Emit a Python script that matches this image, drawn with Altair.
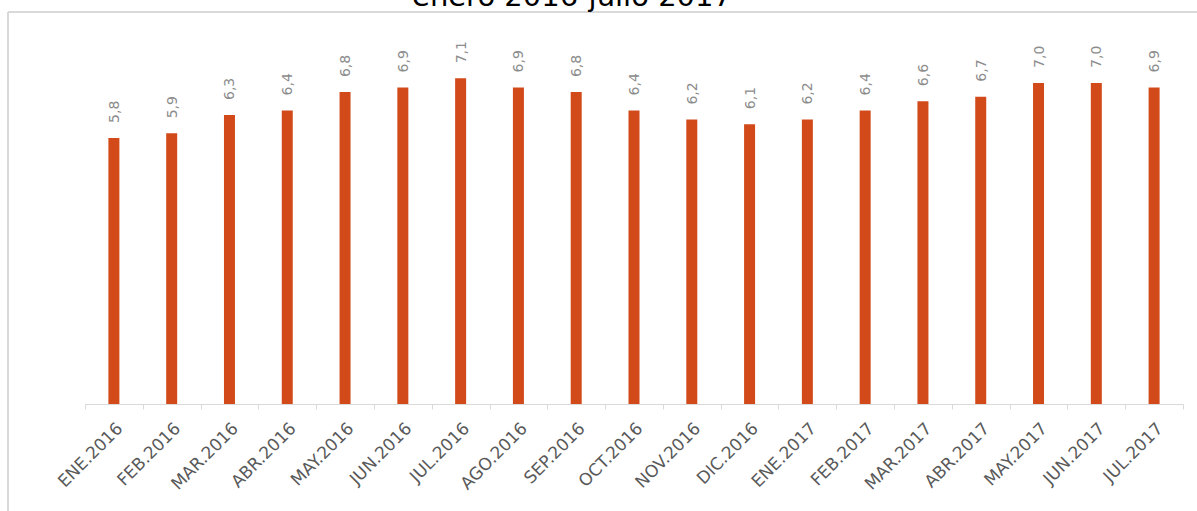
import altair as alt
import pandas as pd

months = ["ENE.2016", "FEB.2016", "MAR.2016", "ABR.2016", "MAY.2016", "JUN.2016",
          "JUL.2016", "AGO.2016", "SEP.2016", "OCT.2016", "NOV.2016", "DIC.2016",
          "ENE.2017", "FEB.2017", "MAR.2017", "ABR.2017", "MAY.2017", "JUN.2017",
          "JUL.2017"]
values = [5.8, 5.9, 6.3, 6.4, 6.8, 6.9, 7.1, 6.9, 6.8, 6.4, 6.2, 6.1,
          6.2, 6.4, 6.6, 6.7, 7.0, 7.0, 6.9]
title_text = "enero 2016-julio 2017"

df = pd.DataFrame({"mes": months, "valor": values})

W, H = 1098, 367

x_enc = alt.X("mes:N", sort=None, title=None,
              scale=alt.Scale(paddingInner=0, paddingOuter=0),
              axis=alt.Axis(labelAngle=-45, labelFontSize=17, labelFont="DejaVu Sans",
                            labelColor="#595959", labelPadding=11,
                            domainColor="#d9d9d9", tickColor="#d9d9d9",
                            tickSize=5, tickBand="extent", grid=False))
y_enc = alt.Y("valor:Q", title=None, scale=alt.Scale(domain=[0, 8], nice=False),
              axis=None)

base = alt.Chart(df)

bars = base.mark_bar(size=11, color="#D24A1A").encode(x=x_enc, y=y_enc)

labels = base.transform_calculate(
    etiqueta="replace(format(datum.valor, '.1f'), '.', ',')"
).mark_text(angle=270, align="left", baseline="middle", dx=15, dy=1,
            fontSize=14, font="DejaVu Sans", color="#8c8c8c").encode(
    x=x_enc, y=y_enc, text="etiqueta:N")

frame_data = alt.Data(values=[{"k": 1}])
top_line = alt.Chart(frame_data).mark_rule(color="#d9d9d9", strokeWidth=2).encode(
    x=alt.value(-77), x2=alt.value(W + 30), y=alt.value(-25))
left_line = alt.Chart(frame_data).mark_rule(color="#d9d9d9", strokeWidth=2).encode(
    x=alt.value(-77), y=alt.value(-25), y2=alt.value(H + 130))

title_mark = alt.Chart(alt.Data(values=[{"t": title_text}])).mark_text(
    font="DejaVu Sans", fontSize=29, color="#000000", align="center",
    baseline="alphabetic").encode(
    x=alt.value(487), y=alt.value(-31), text="t:N")

chart = alt.layer(top_line, left_line, bars, labels, title_mark).properties(
    width=W, height=H,
    autosize=alt.AutoSizeParams(type="none"),
    padding={"left": 85, "top": 37, "right": 14, "bottom": 107},
).configure_view(stroke=None)

chart.save("out.html", embed_options={"renderer": "svg", "actions": False})
